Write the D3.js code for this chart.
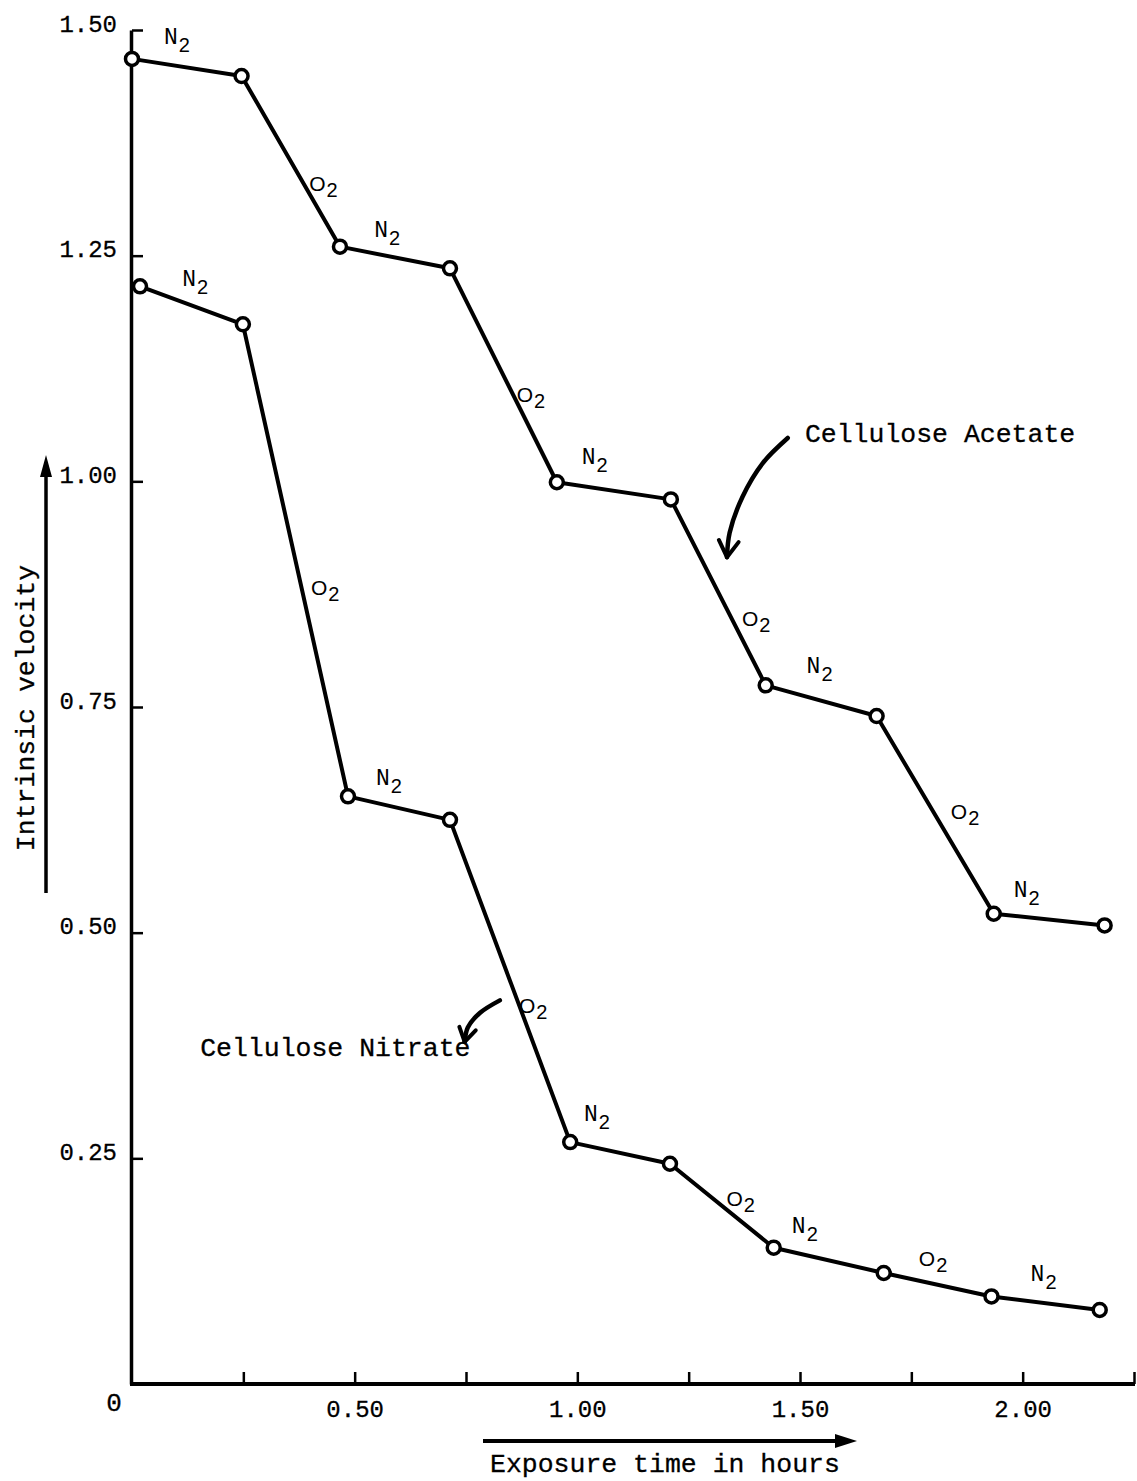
<!DOCTYPE html>
<html lang="en">
<head>
  <meta charset="UTF-8">
  <title>Intrinsic velocity vs exposure time</title>
  <style>
    body { margin: 0; background: #fff; }
    svg { display: block; background: #fff; }
    .axis path, .axis line { fill: none; stroke: #000; }
    .axis text { font-family: "Liberation Mono", "Courier New", monospace; font-size: 24px; fill: #000; stroke: #000; stroke-width: 0.3; }
    .series { fill: none; stroke: #000; stroke-width: 4; stroke-linejoin: round; }
    .pt { fill: #fff; stroke: #000; stroke-width: 3.5; }
    .note { font-family: "Liberation Mono", "Courier New", monospace; font-size: 26.5px; fill: #000; stroke: #000; stroke-width: 0.3; }
    .gas { font-size: 23px; fill: #000; }
  </style>
</head>
<body>
  <div id="chart"></div>
  <script src="https://d3js.org/d3.v7.min.js"></script>
  <script>
    // values (hours, intrinsic velocity)
    const acetateTime = [0, 0.246, 0.467, 0.714, 0.954, 1.210, 1.423, 1.672, 1.935, 2.184];
    const acetateVel  = [1.468, 1.449, 1.260, 1.236, 0.999, 0.980, 0.774, 0.740, 0.521, 0.508];
    const nitrateTime = [0.018, 0.249, 0.485, 0.714, 0.984, 1.208, 1.441, 1.688, 1.930, 2.173];
    const nitrateVel  = [1.216, 1.174, 0.651, 0.625, 0.268, 0.244, 0.151, 0.123, 0.097, 0.082];

    // gas atmosphere for each segment
    const gasSeq = ["N", "O", "N", "O", "N", "O", "N", "O", "N"];

    // where the gas labels sit (data units)
    const acetateLabelT = [0.074, 0.400, 0.546, 0.866, 1.012, 1.372, 1.517, 1.841, 1.982];
    const acetateLabelV = [1.486, 1.323, 1.272, 1.089, 1.020, 0.841, 0.789, 0.627, 0.541];
    const nitrateLabelT = [0.115, 0.404, 0.550, 0.871, 1.017, 1.337, 1.484, 1.769, 2.020];
    const nitrateLabelV = [1.218, 0.875, 0.665, 0.412, 0.293, 0.198, 0.168, 0.132, 0.115];

    const yTicks = [0.25, 0.50, 0.75, 1.00, 1.25, 1.50];
    const xTicks = [0.25, 0.50, 0.75, 1.00, 1.25, 1.50, 1.75, 2.00, 2.25];
    const xLabelled = [0.50, 1.00, 1.50, 2.00];

    // annotation pointers
    const acetateArrowT = [1.4725, 1.416, 1.371, 1.342, 1.336];
    const acetateArrowV = [1.048, 1.020, 0.983, 0.943, 0.916];
    const nitrateArrowT = [0.826, 0.781, 0.754, 0.747];
    const nitrateArrowV = [0.425, 0.411, 0.395, 0.379];

    const W = 1137, H = 1481;
    const svg = d3.select("#chart").append("svg")
      .attr("width", W).attr("height", H);

    const x = d3.scaleLinear().domain([0, 2.25]).range([132, 1134]);
    const y = d3.scaleLinear().domain([0, 1.5]).range([1384, 30]);

    // x axis
    const xAxis = svg.append("g")
      .attr("class", "axis")
      .attr("transform", "translate(0," + y(0) + ")")
      .call(d3.axisBottom(x)
        .tickValues(xTicks)
        .tickSizeInner(-12)
        .tickSizeOuter(0)
        .tickPadding(10)
        .tickFormat(d => xLabelled.includes(d) ? d3.format(".2f")(d) : ""));
    xAxis.select(".domain").attr("d", "M130,0H1135").attr("stroke-width", 4);
    xAxis.selectAll(".tick line").attr("stroke-width", 2.5);
    xAxis.selectAll(".tick text").attr("dy", "0.95em");

    // y axis
    const yAxis = svg.append("g")
      .attr("class", "axis")
      .attr("transform", "translate(" + x(0) + ",0)")
      .call(d3.axisLeft(y)
        .tickValues(yTicks)
        .tickSizeInner(-11)
        .tickSizeOuter(0)
        .tickPadding(15)
        .tickFormat(d3.format(".2f")));
    yAxis.select(".domain").attr("stroke-width", 3.5).attr("transform", "translate(-1,0)");
    yAxis.selectAll(".tick line").attr("stroke-width", 2.5);
    yAxis.selectAll(".tick text").attr("dy", "0.05em");

    svg.append("text").attr("class", "axis")
      .attr("x", x(0) - 18).attr("y", y(0) + 27)
      .attr("text-anchor", "middle")
      .style("font-family", '"Liberation Mono", monospace').style("font-size", "26px")
      .style("stroke", "#000").style("stroke-width", 0.3)
      .text("0");

    // series
    const line = d3.line().x(d => x(d[0])).y(d => y(d[1]));
    const series = [
      { t: acetateTime, v: acetateVel, lt: acetateLabelT, lv: acetateLabelV },
      { t: nitrateTime, v: nitrateVel, lt: nitrateLabelT, lv: nitrateLabelV }
    ];

    series.forEach(s => {
      const pts = s.t.map((t, i) => [t, s.v[i]]);
      svg.append("path").datum(pts).attr("class", "series").attr("d", line);
      svg.selectAll(null).data(pts).enter().append("circle")
        .attr("class", "pt")
        .attr("cx", d => x(d[0])).attr("cy", d => y(d[1])).attr("r", 6.5);

      gasSeq.forEach((g, i) => {
        const txt = svg.append("text").attr("class", "gas")
          .attr("x", x(s.lt[i]) - 1).attr("y", y(s.lv[i]) + 1);
        txt.append("tspan")
          .style("font-family", g === "N" ? '"Liberation Mono", monospace' : '"Liberation Sans", Arial, sans-serif')
          .style("font-size", g === "N" ? "23px" : "21px")
          .text(g);
        txt.append("tspan")
          .style("font-family", '"Liberation Sans", Arial, sans-serif')
          .style("font-size", "20px")
          .attr("dx", 1)
          .attr("dy", g === "N" ? 8 : 6)
          .text("2");
      });
    });

    // curved pointers with open heads
    const curve = d3.line().x(d => x(d[0])).y(d => y(d[1])).curve(d3.curveCatmullRom);
    function pointer(ts, vs, headLen) {
      const pts = ts.map((t, i) => [t, vs[i]]);
      svg.append("path").datum(pts).attr("d", curve)
        .attr("fill", "none").attr("stroke", "#000").attr("stroke-width", 4.5).attr("stroke-linecap", "round");
      const n = pts.length;
      const tx = x(pts[n - 1][0]), ty = y(pts[n - 1][1]);
      const px = x(pts[n - 2][0]), py = y(pts[n - 2][1]);
      const ang = Math.atan2(py - ty, px - tx);
      [-0.55, 0.55].forEach(a => {
        svg.append("line")
          .attr("x1", tx).attr("y1", ty)
          .attr("x2", tx + headLen * Math.cos(ang + a))
          .attr("y2", ty + headLen * Math.sin(ang + a))
          .attr("stroke", "#000").attr("stroke-width", 4).attr("stroke-linecap", "round");
      });
    }
    pointer(acetateArrowT, acetateArrowV, 19);
    pointer(nitrateArrowT, nitrateArrowV, 16);

    svg.append("text").attr("class", "note")
      .attr("x", x(1.511)).attr("y", y(1.0435)).text("Cellulose Acetate");
    svg.append("text").attr("class", "note")
      .attr("x", x(0.153)).attr("y", y(0.363)).text("Cellulose Nitrate");

    // axis titles with arrows
    svg.append("text").attr("class", "note")
      .attr("transform", "translate(34,708) rotate(-90)")
      .attr("text-anchor", "middle")
      .text("Intrinsic velocity");
    svg.append("line").attr("x1", 46).attr("y1", 893).attr("x2", 46).attr("y2", 470)
      .attr("stroke", "#000").attr("stroke-width", 3.5);
    svg.append("path").attr("d", "M46,455 L40,477 L52,477 Z").attr("fill", "#000");

    svg.append("text").attr("class", "note")
      .attr("x", 490).attr("y", 1472).text("Exposure time in hours");
    svg.append("line").attr("x1", 483).attr("y1", 1441).attr("x2", 840).attr("y2", 1441)
      .attr("stroke", "#000").attr("stroke-width", 4);
    svg.append("path").attr("d", "M857,1441 L835,1434 L835,1448 Z").attr("fill", "#000");
  </script>
</body>
</html>
